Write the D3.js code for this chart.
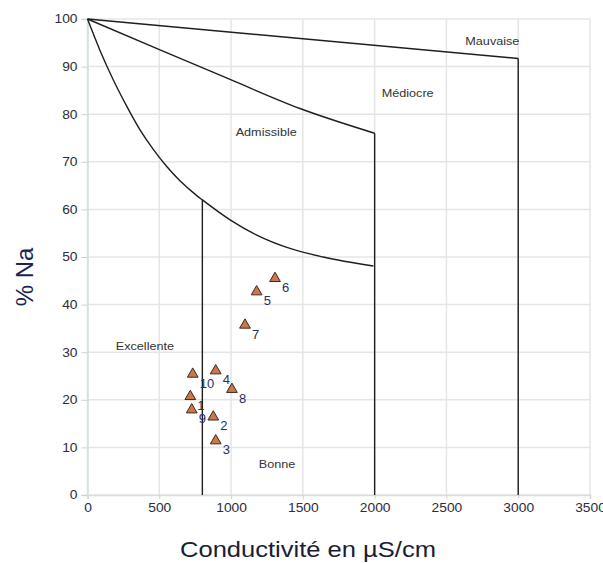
<!DOCTYPE html>
<html>
<head>
<meta charset="utf-8">
<script src="https://cdn.jsdelivr.net/npm/d3@7"></script>
<style>
  html, body { margin: 0; padding: 0; background: #fff; }
  svg { display: block; font-family: "Liberation Sans", Arial, sans-serif; }
  .wide { transform-box: fill-box; transform: scaleX(1.15); }
</style>
</head>
<body>
<svg id="chart" width="603" height="563"></svg>
<script>
// Sodium percentage vs. conductivity (Wilcox-type classification)
const sampleIds   = ["1", "2", "3", "4", "5", "6", "7", "8", "9", "10"];
const conductivity = [716, 876, 893, 893, 1178, 1306, 1097, 1006, 726, 733];
const sodiumPct    = [20.7, 16.4, 11.4, 26.1, 42.7, 45.5, 35.7, 22.2, 17.9, 25.4];

const xTicks = [0, 500, 1000, 1500, 2000, 2500, 3000, 3500];
const yTicks = [0, 10, 20, 30, 40, 50, 60, 70, 80, 90, 100];

// Class boundaries [conductivity, %Na]
const mauvaiseLimit = [[0, 100], [3000, 91.7]];
const mediocreLimit = [[0, 100], [505, 93.5], [993, 87.3], [1480, 81.2], [2000, 76.0]];
const admissibleLimit = [[0, 100], [87, 93.4], [180, 87.2], [273, 81.7], [366, 76.7], [458, 72.6],
                         [552, 69.0], [644, 66.0], [761, 62.9], [800, 62.0], [993, 57.8],
                         [1179, 54.6], [1410, 51.8], [1642, 50.0], [1991, 48.1]];
// Vertical class limits: [conductivity, top %Na]
const verticalLimits = [[800, 62.0], [2000, 76.0], [3000, 91.7]];

const zoneNames = ["Mauvaise", "Médiocre", "Admissible", "Excellente", "Bonne"];
const zoneX     = [2820, 2230, 1245, 400, 1320];
const zoneY     = [94.5, 83.6, 75.4, 30.4, 5.7];

const margin = { top: 19, right: 13, bottom: 68, left: 87.5 };
const W = 603, H = 563;
const svg = d3.select("#chart");

const x = d3.scaleLinear().domain([0, 3500]).range([margin.left, W - margin.right]);
const y = d3.scaleLinear().domain([0, 100]).range([H - margin.bottom, margin.top]);

// Grid
svg.append("g")
  .selectAll("line").data(xTicks).join("line")
  .attr("x1", d => x(d)).attr("x2", d => x(d))
  .attr("y1", y(0)).attr("y2", y(100))
  .attr("stroke", "#e4e6e6").attr("stroke-width", 1.5);
svg.append("g")
  .selectAll("line").data(yTicks).join("line")
  .attr("x1", x(0)).attr("x2", x(3500))
  .attr("y1", d => y(d)).attr("y2", d => y(d))
  .attr("stroke", "#e4e6e6").attr("stroke-width", 1.5);

// Axes
const xAxis = svg.append("g")
  .attr("transform", `translate(0,${y(0)})`)
  .call(d3.axisBottom(x).tickValues(xTicks).tickFormat(d3.format("d")).tickSize(4).tickPadding(4));
const yAxis = svg.append("g")
  .attr("transform", `translate(${x(0)},0)`)
  .call(d3.axisLeft(y).tickValues(yTicks).tickSize(6).tickPadding(4));

[xAxis, yAxis].forEach(g => {
  g.select(".domain").attr("stroke", "#cfe2dc").attr("stroke-width", 1.5);
  g.selectAll(".tick line").attr("stroke", "#c9d4d2");
  g.selectAll(".tick text")
    .attr("fill", "#2c2c3c")
    .style("font-size", "12px")
    .attr("class", "wide");
});
xAxis.selectAll(".tick text").style("transform-origin", "center");
yAxis.selectAll(".tick text").style("transform-origin", "right center");

// Boundary curves
const line = d3.line().x(d => x(d[0])).y(d => y(d[1])).curve(d3.curveMonotoneX);
const bounds = svg.append("g").attr("fill", "none").attr("stroke", "#1e1e1e").attr("stroke-width", 1.4);
[mauvaiseLimit, mediocreLimit, admissibleLimit].forEach(pts => {
  bounds.append("path").attr("d", line(pts));
});
bounds.selectAll("line").data(verticalLimits).join("line")
  .attr("x1", d => x(d[0])).attr("x2", d => x(d[0]))
  .attr("y1", d => y(d[1])).attr("y2", y(0));

// Zone names
svg.append("g").selectAll("text").data(zoneNames).join("text")
  .attr("x", (d, i) => x(zoneX[i]))
  .attr("y", (d, i) => y(zoneY[i]))
  .attr("text-anchor", "middle")
  .attr("fill", "#333")
  .style("font-size", "11px")
  .attr("class", "wide")
  .style("transform-origin", "center")
  .text(d => d);

// Samples
const samples = sampleIds.map((id, i) => ({ id, c: conductivity[i], na: sodiumPct[i] }));
const tri = d3.symbol().type(d3.symbolTriangle).size(50);
const pts = svg.append("g");
pts.selectAll("path").data(samples).join("path")
  .attr("transform", d => `translate(${x(d.c)},${y(d.na)})`)
  .attr("d", tri)
  .attr("fill", "#c8784a")
  .attr("stroke", "#3e2a1e")
  .attr("stroke-width", 1);
pts.selectAll("text").data(samples).join("text")
  .attr("x", d => x(d.c) + 7)
  .attr("y", d => y(d.na) + 13.5)
  .attr("fill", "#283060")
  .style("font-size", "13px")
  .text(d => d.id);

// Axis titles
svg.append("text")
  .attr("transform", `translate(33,277) rotate(-90)`)
  .attr("text-anchor", "middle")
  .attr("fill", "#1c2452")
  .style("font-size", "24px")
  .text("% Na");
svg.append("text")
  .attr("x", 308).attr("y", 557)
  .attr("text-anchor", "middle")
  .attr("fill", "#1a1d33")
  .attr("textLength", 256)
  .attr("lengthAdjust", "spacingAndGlyphs")
  .style("font-size", "22px")
  .text("Conductivité en µS/cm");
</script>
</body>
</html>
